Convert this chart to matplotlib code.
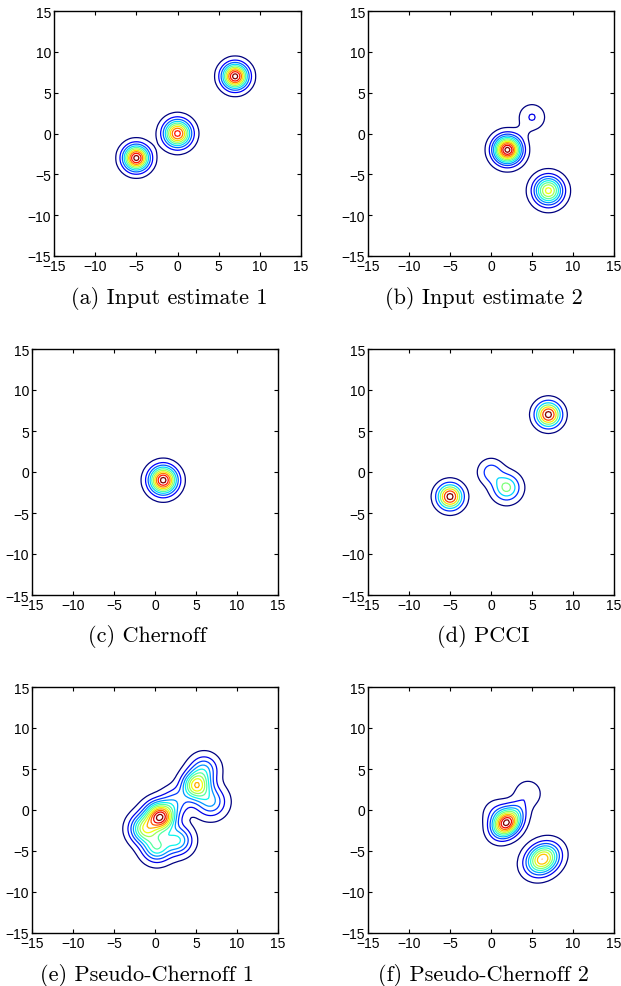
import numpy as np
import matplotlib
matplotlib.use("Agg")
import matplotlib.pyplot as plt

# Gaussian mixture components:
# centre x, centre y, peak height, sigma x, sigma y, correlation
a_mx = [-5.0, 0.0, 7.0]
a_my = [-3.0, 0.0, 7.0]
a_w = [1.0, 0.9, 1.0]
a_sx = [1.02, 1.08, 1.02]
a_sy = [1.02, 1.08, 1.02]
a_rho = [0.0, 0.0, 0.0]

b_mx = [2.0, 7.0, 5.0, 3.9]
b_my = [-2.0, -7.0, 2.0, 0.1]
b_w = [1.0, 0.66, 0.135, 0.025]
b_sx = [1.08, 1.15, 1.0, 0.7]
b_sy = [1.08, 1.15, 1.0, 0.7]
b_rho = [0.0, 0.0, 0.0, 0.0]

c_mx = [1.0]
c_my = [-1.0]
c_w = [1.0]
c_sx = [1.1]
c_sy = [1.1]
c_rho = [0.0]

d_mx = [-5.0, 7.0, 0.0, 1.9]
d_my = [-3.0, 7.0, 0.0, -1.9]
d_w = [1.0, 1.0, 0.30, 0.55]
d_sx = [1.0, 1.0, 0.98, 1.1]
d_sy = [1.0, 1.0, 0.98, 1.1]
d_rho = [0.0, 0.0, 0.0, 0.0]

e_mx = [0.8, 0.0, -1.3, 0.2, 2.8, 2.5, 5.0, 6.8, 6.0]
e_my = [-0.9, -0.3, -2.3, -4.6, -3.7, 1.0, 3.0, 1.0, 5.0]
e_w = [0.85, 0.20, 0.60, 0.45, 0.40, 0.25, 0.70, 0.33, 0.30]
e_sx = [1.1, 1.1, 1.15, 1.15, 1.15, 1.15, 1.1, 1.25, 1.15]
e_sy = [1.1, 1.1, 1.15, 1.15, 1.15, 1.15, 1.1, 1.25, 1.15]
e_rho = [0.0] * 9

f_mx = [1.9, 0.7, 6.3, 4.5, 3.4]
f_my = [-1.6, -0.4, -6.0, 2.0, 0.2]
f_w = [1.0, 0.12, 0.80, 0.13, 0.08]
f_sx = [1.12, 1.1, 1.3, 1.05, 0.9]
f_sy = [1.12, 1.1, 1.22, 1.05, 0.9]
f_rho = [0.25, 0.0, 0.2, 0.0, 0.0]

panels = [
    ("(a) Input estimate 1", a_mx, a_my, a_w, a_sx, a_sy, a_rho, 10),
    ("(b) Input estimate 2", b_mx, b_my, b_w, b_sx, b_sy, b_rho, 12),
    ("(c) Chernoff", c_mx, c_my, c_w, c_sx, c_sy, c_rho, 10),
    ("(d) PCCI", d_mx, d_my, d_w, d_sx, d_sy, d_rho, 7),
    ("(e) Pseudo-Chernoff 1", e_mx, e_my, e_w, e_sx, e_sy, e_rho, 12),
    ("(f) Pseudo-Chernoff 2", f_mx, f_my, f_w, f_sx, f_sy, f_rho, 11),
]

ticks = [-15, -10, -5, 0, 5, 10, 15]

# axes rectangles in pixels: left, top, width, height
rects = [
    (54, 12, 247, 245), (368, 12, 246, 245),
    (32, 350, 246, 246), (368, 350, 246, 246),
    (32, 688, 246, 246), (368, 688, 246, 246),
]
caption_pos = [(169, 298), (484, 298), (147, 637), (483, 637), (147, 976), (483, 976)]

W, H = 621, 987
x = np.linspace(-15, 15, 121)
X, Y = np.meshgrid(x, x)


def mixture(mx, my, w, sx, sy, rho):
    Z = np.zeros_like(X)
    for i in range(len(mx)):
        dx = (X - mx[i]) / sx[i]
        dy = (Y - my[i]) / sy[i]
        q = (dx**2 - 2 * rho[i] * dx * dy + dy**2) / (1 - rho[i]**2)
        Z += w[i] * np.exp(-0.5 * q)
    return Z


fig = plt.figure(figsize=(W / 100, H / 100), dpi=100)

for (title, mx, my, w, sx, sy, rho, n), (l, t, rw, rh), (cx, cy) in zip(panels, rects, caption_pos):
    ax = fig.add_axes([l / W, 1 - (t + rh) / H, rw / W, rh / H])
    Z = mixture(mx, my, w, sx, sy, rho)
    zmax = Z.max()
    levels = zmax * (np.arange(n) + 0.5) / n
    ax.contour(X, Y, Z, levels=levels, cmap="jet", linewidths=0.9)
    ax.set_xlim(-15, 15)
    ax.set_ylim(-15, 15)
    ax.set_xticks(ticks)
    ax.set_yticks(ticks)
    ax.set_xticklabels([str(v).replace("-", "\u2212") for v in ticks])
    ax.set_yticklabels([str(v).replace("-", "\u2212") for v in ticks])
    ax.tick_params(direction="in", length=3, width=0.8, top=True, right=True,
                   labelsize=10, pad=2)
    for lab in ax.get_xticklabels() + ax.get_yticklabels():
        lab.set_family(["Liberation Sans", "DejaVu Sans"])
    for s in ax.spines.values():
        s.set_linewidth(1.0)
    fig.text(cx / W, 1 - cy / H, title, ha="center", va="center",
             fontsize=16, family=["cmr10", "DejaVu Serif"])

fig.savefig("out.png", dpi=100)
